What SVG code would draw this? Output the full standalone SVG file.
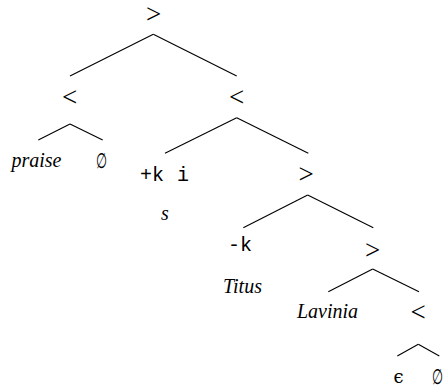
<svg xmlns="http://www.w3.org/2000/svg" width="444" height="390" viewBox="0 0 444 390">
<style>
.sym{font-family:"Liberation Serif","Times New Roman","DejaVu Serif",serif;font-size:27px;text-anchor:middle;fill:#000}
.it{font-family:"Liberation Serif","Times New Roman","DejaVu Serif",serif;font-style:italic;font-size:20px;text-anchor:middle;fill:#000}
.tt{font-family:"Liberation Mono","Courier New","DejaVu Sans Mono",monospace;font-size:20px;fill:#000}
.es{font-family:"DejaVu Sans","Liberation Sans",sans-serif;font-size:21px;text-anchor:middle;fill:#000}
.ep{font-family:"DejaVu Serif","Liberation Serif",serif;font-size:18px;text-anchor:middle;fill:#000}
.edges line{stroke:#000;stroke-width:1.1;fill:none}
</style>
<rect width="444" height="390" fill="#fff"/>
<g id="connectors" class="edges">
<line x1="153.3" y1="34.3" x2="70" y2="76"/>
<line x1="153.3" y1="34.3" x2="236.7" y2="76"/>
<line x1="70" y1="124" x2="38.3" y2="140"/>
<line x1="70" y1="124" x2="102.7" y2="140"/>
<line x1="236.7" y1="117.7" x2="165" y2="153.3"/>
<line x1="236.7" y1="117.7" x2="308.3" y2="153.3"/>
<line x1="307.7" y1="195" x2="243.3" y2="227.7"/>
<line x1="307.7" y1="195" x2="373.3" y2="227.7"/>
<line x1="372.7" y1="269" x2="328.3" y2="291.7"/>
<line x1="372.7" y1="269" x2="419" y2="291.7"/>
<line x1="418.3" y1="344.3" x2="397.3" y2="356"/>
<line x1="418.3" y1="344.3" x2="439.3" y2="356"/>
</g>
<g id="n-root"><text class="sym" x="153.5" y="22.5">&gt;</text></g>
<g id="n-left"><text class="sym" x="69.5" y="105.5">&lt;</text></g>
<g id="n-right"><text class="sym" x="236.5" y="105.5">&lt;</text></g>
<g id="n-praise"><text class="it" x="36.5" y="167">praise</text></g>
<g id="n-empty1"><text class="es" transform="translate(101.5,168) scale(0.6,1)" x="0" y="0">∅</text></g>
<g id="n-ki"><text class="tt" x="140" y="181" xml:space="preserve">+k <tspan x="177">i</tspan></text><text class="it" x="165" y="220">s</text></g>
<g id="n-gt2"><text class="sym" x="306" y="182.5">&gt;</text></g>
<g id="n-k"><text class="tt" x="228" y="251">-k</text><text class="it" x="242.5" y="293">Titus</text></g>
<g id="n-gt3"><text class="sym" x="372.5" y="258.5">&gt;</text></g>
<g id="n-lavinia"><text class="it" x="327.5" y="318">Lavinia</text></g>
<g id="n-lt3"><text class="sym" x="418" y="320.5">&lt;</text></g>
<g id="n-eps"><text class="ep" x="398.5" y="383">ϵ</text></g>
<g id="n-empty2"><text class="es" transform="translate(437.5,384) scale(0.6,1)" x="0" y="0">∅</text></g>
</svg>
